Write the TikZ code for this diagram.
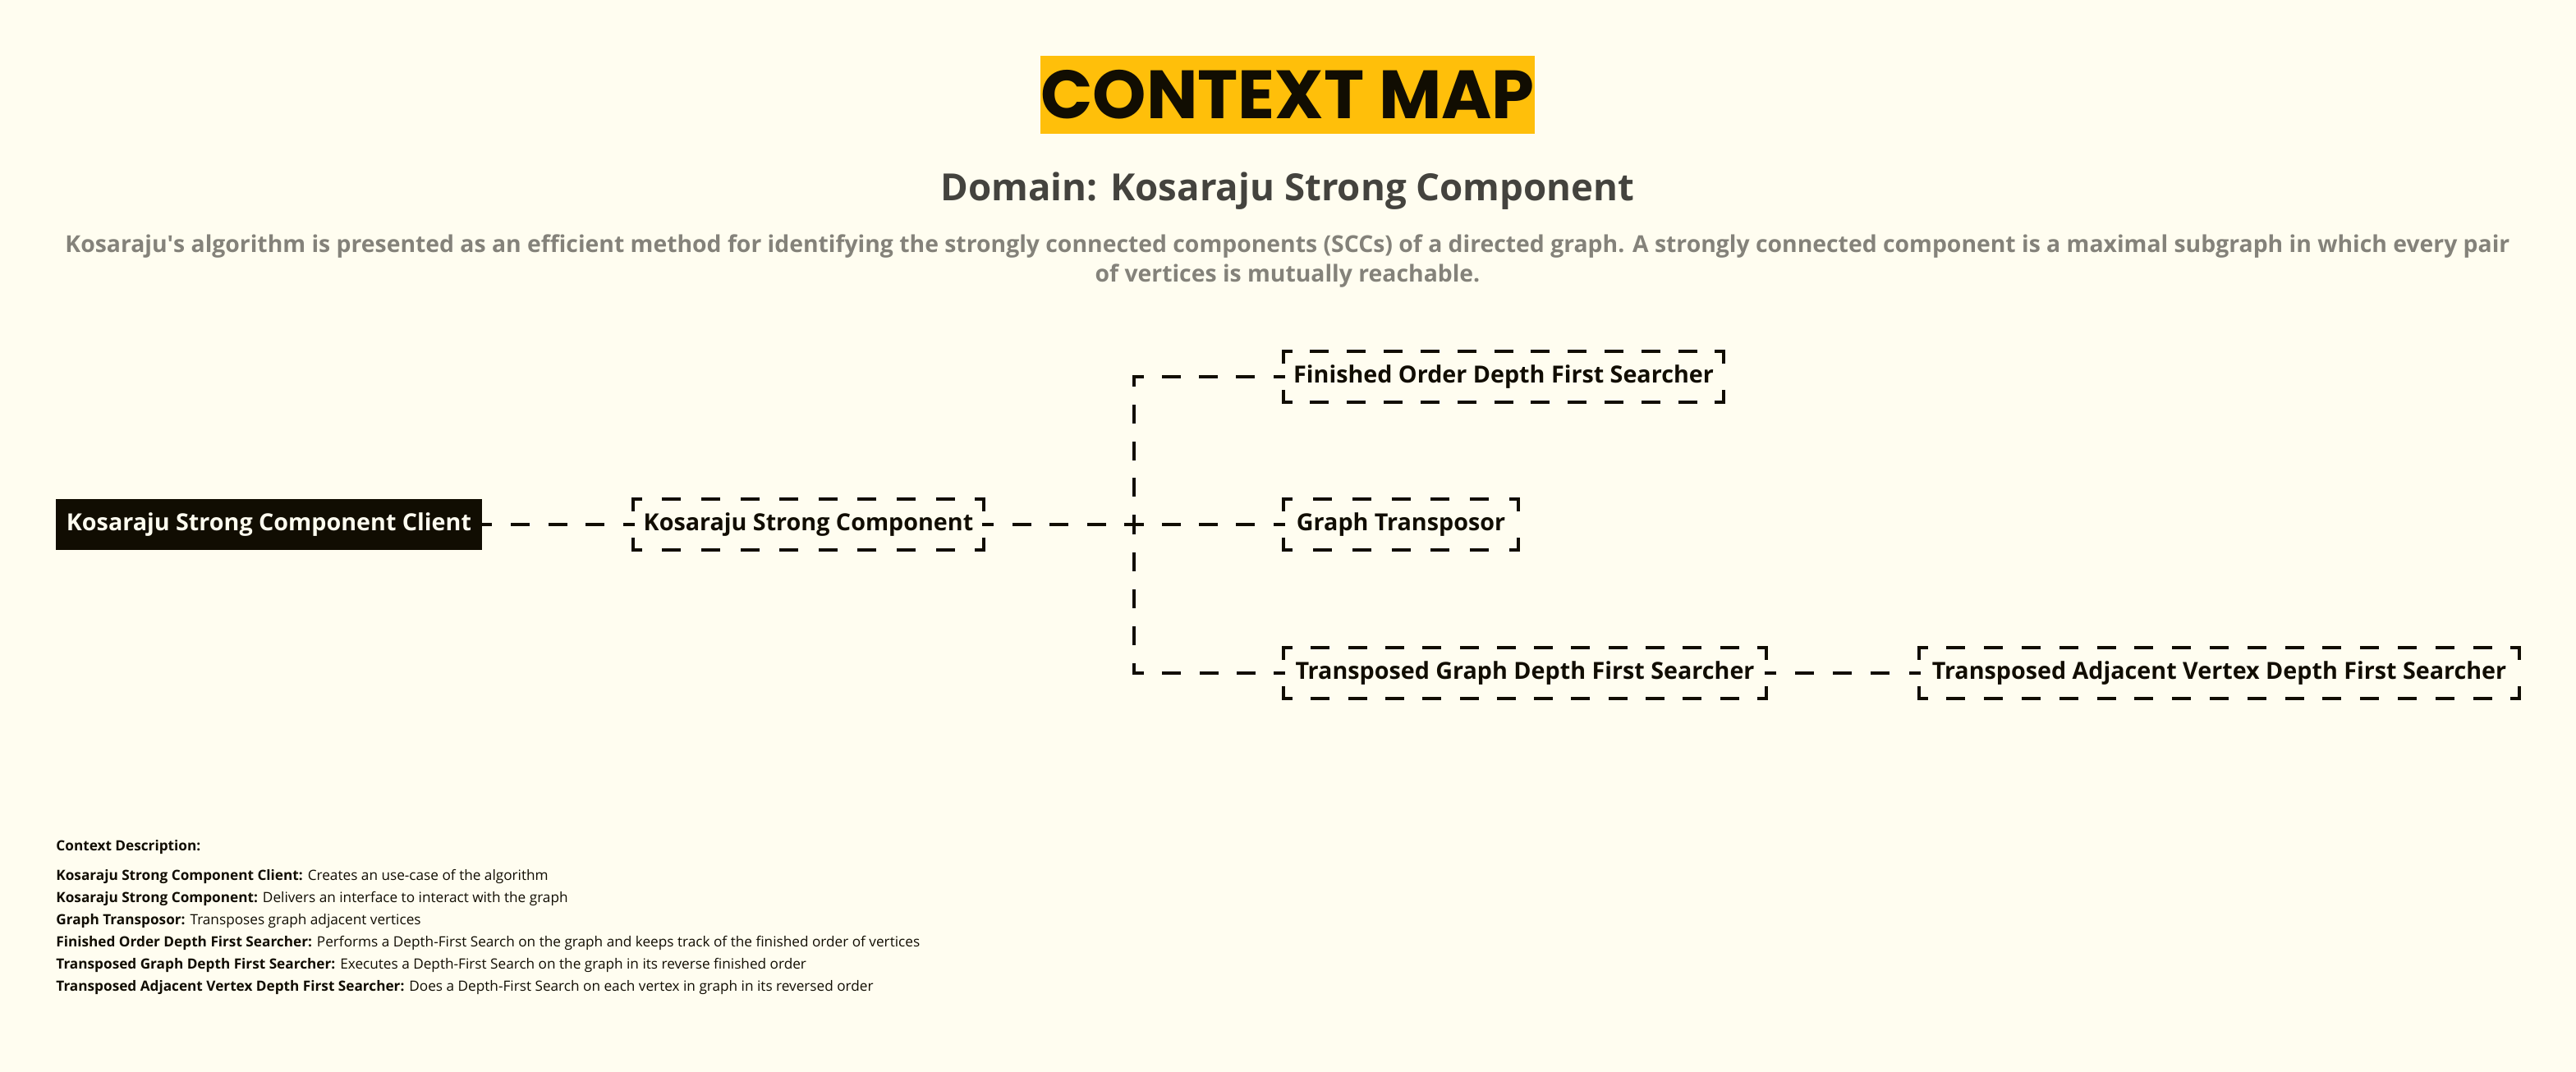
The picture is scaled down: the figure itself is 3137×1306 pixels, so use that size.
\documentclass[tikz,border=0pt]{standalone}
\usepackage{fontspec}
\setmainfont{Open Sans}
\newfontfamily\titlefont{Poppins}
\usetikzlibrary{calc}
\definecolor{bg}{HTML}{FFFDF0}
\definecolor{ink}{HTML}{110D02}
\definecolor{ttl}{HTML}{FFBF0A}
\definecolor{subc}{HTML}{44433E}
\definecolor{descc}{HTML}{84827A}

\newcommand\ddash{11.5}
\newcommand\dgap{11.5}
\newcommand\dlw{2}
\newcommand\dseg[3]{%
  \path (#1) coordinate (dsA) (#2) coordinate (dsB);
  \pgfpointdiff{\pgfpointanchor{dsA}{center}}{\pgfpointanchor{dsB}{center}}%
  \pgfgetlastxy{\dsx}{\dsy}%
  \pgfmathsetmacro\dsL{veclen(\dsx,\dsy)}%
  \pgfmathsetmacro\dsK{max(0,round((\dsL-2*#3-\dgap)/(\ddash+\dgap)))}%
  \pgfmathsetmacro\dsG{(\dsL-2*#3-\dsK*\ddash)/(\dsK+1)}%
  \pgfmathsetmacro\dsOn{\ddash-\dlw}%
  \pgfmathsetmacro\dsOff{\dsG+\dlw}%
  \pgfmathsetmacro\dsP{\dsOn-(#3-\dlw/2)}%
  \draw[dashline, dash pattern=on \dsOn pt off \dsOff pt, dash phase=\dsP pt] (dsA) -- (dsB);
}
\newcommand\dbox[1]{%
  \dseg{#1.north west}{#1.north east}{5.5}%
  \dseg{#1.south west}{#1.south east}{5.5}%
  \dseg{#1.north west}{#1.south west}{7.5}%
  \dseg{#1.north east}{#1.south east}{7.5}%
}
\newcommand\nodefont{\bfseries\fontsize{14.35}{16}\selectfont}
\tikzset{
  dashline/.style={line width=2pt, draw=ink, line cap=rect},
  box/.style={inner sep=0pt, minimum height=31pt, font=\nodefont, text=ink},
  clientbox/.style={box, fill=ink, text=bg},
}

\begin{document}
\begin{tikzpicture}[x=0.5pt,y=-0.5pt]
\fill[bg] (0,0) rectangle (3137,1306);
\useasboundingbox (0,0) rectangle (3137,1306);

\node[fill=ttl, minimum width=300pt, minimum height=47.5pt, inner sep=0pt,
      font=\titlefont\bfseries\fontsize{41.6}{41.6}\selectfont, text=ink] (title) at (1568,115.5) {CONTEXT MAP};
\node[font=\bfseries\fontsize{22.8}{28}\selectfont, text=subc, anchor=base, inner sep=0pt] (domain) at (1568,244) {Domain: Kosaraju Strong Component};
\node[font=\bfseries\fontsize{14.17}{18}\selectfont, text=descc, align=center, inner sep=0pt] (summary) at (1568,318)
  {Kosaraju\textquotesingle s algorithm is presented as an efficient method for identifying the strongly connected components (SCCs) of a directed graph. A strongly connected component is a maximal subgraph in which every pair\\of vertices is mutually reachable.};

\node[clientbox, minimum width=259.5pt] (client) at (327.5,639) {Kosaraju Strong Component Client};
\node[box, minimum width=213.5pt] (ksc) at (984.5,639) {Kosaraju Strong Component};
\node[box, minimum width=268pt] (fo) at (1831,459) {Finished Order Depth First Searcher};
\node[box, minimum width=143pt] (gt) at (1706,639) {Graph Transposor};
\node[box, minimum width=293.5pt] (tg) at (1857,820) {Transposed Graph Depth First Searcher};
\node[box, minimum width=365.5pt] (tav) at (2702.5,820) {Transposed Adjacent Vertex Depth First Searcher};
\coordinate (J) at (1381,639);

\dbox{ksc}
\dbox{fo}
\dbox{gt}
\dbox{tg}
\dbox{tav}

\dseg{client.east}{ksc.west}{6}
\dseg{ksc.east}{J}{6}
\dseg{J}{J|-fo}{6}
\dseg{J|-fo}{fo.west}{6}
\dseg{J}{gt.west}{6}
\dseg{J}{J|-tg}{6}
\dseg{J|-tg}{tg.west}{6}
\dseg{tg.east}{tav.west}{6}

\node[anchor=north west, align=left, text=ink, font=\fontsize{8.6}{13.5}\selectfont, inner sep=0pt] (legend) at (68,1023)
 {\textbf{Context Description:}\\[4.5pt]
  \textbf{Kosaraju Strong Component Client:} Creates an use-case of the algorithm\\
  \textbf{Kosaraju Strong Component:} Delivers an interface to interact with the graph\\
  \textbf{Graph Transposor:} Transposes graph adjacent vertices\\
  \textbf{Finished Order Depth First Searcher:} Performs a Depth-First Search on the graph and keeps track of the finished order of vertices\\
  \textbf{Transposed Graph Depth First Searcher:} Executes a Depth-First Search on the graph in its reverse finished order\\
  \textbf{Transposed Adjacent Vertex Depth First Searcher:} Does a Depth-First Search on each vertex in graph in its reversed order};
\end{tikzpicture}
\end{document}
